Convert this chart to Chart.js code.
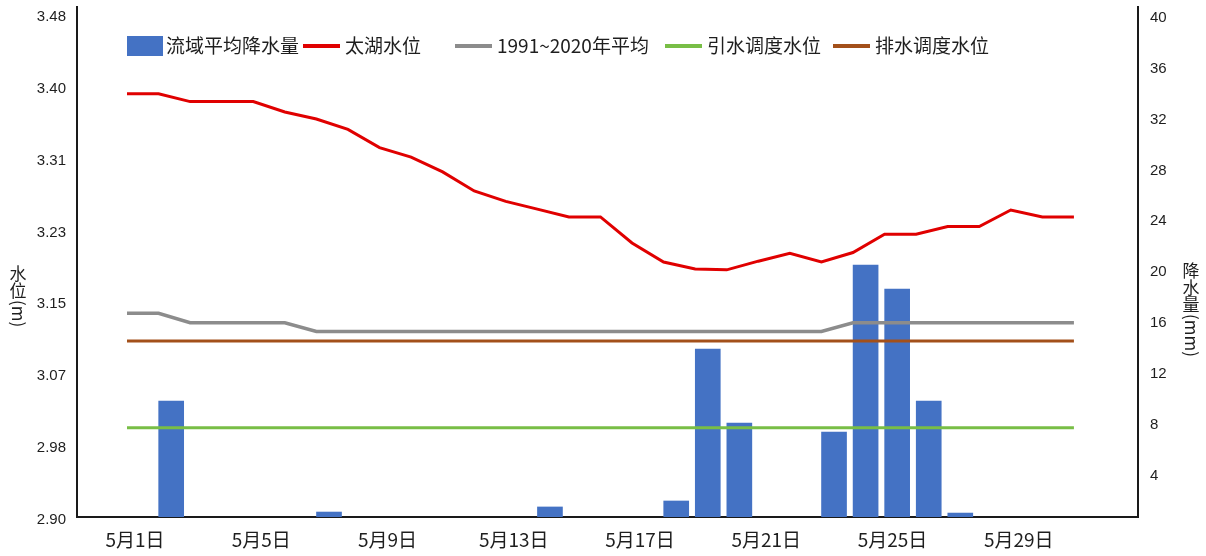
<!DOCTYPE html>
<html>
<head>
<meta charset="utf-8">
<script src="https://cdn.jsdelivr.net/npm/chart.js@4.4.1/dist/chart.umd.min.js"></script>
<style>
html,body{margin:0;padding:0;background:#fff;}
#wrap{width:1206px;height:556px;position:relative;}
</style>
</head>
<body>
<div id="wrap"><canvas id="c" width="1206" height="556"></canvas></div>
<script>
// ---------- data ----------
const days = ['5月1日','5月2日','5月3日','5月4日','5月5日','5月6日','5月7日','5月8日','5月9日','5月10日',
  '5月11日','5月12日','5月13日','5月14日','5月15日','5月16日','5月17日','5月18日','5月19日','5月20日',
  '5月21日','5月22日','5月23日','5月24日','5月25日','5月26日','5月27日','5月28日','5月29日','5月30日','5月31日'];

const seriesNames = ['流域平均降水量','太湖水位','1991~2020年平均','引水调度水位','排水调度水位'];

// 流域平均降水量 (mm)
const rainfall = [null, 9.63, null, null, null, null, 0.89, null, null, null,
  null, null, null, 1.29, null, null, null, 1.76, 13.72, 7.90,
  null, null, 7.19, 20.33, 18.44, 9.63, 0.81, null, null, null, null];

// 太湖水位 (m)
const taihuLevel = [3.388, 3.388, 3.379, 3.379, 3.379, 3.367, 3.359, 3.347, 3.326, 3.315,
  3.298, 3.276, 3.264, 3.255, 3.246, 3.246, 3.216, 3.194, 3.186, 3.185,
  3.195, 3.204, 3.194, 3.205, 3.226, 3.226, 3.235, 3.235, 3.254, 3.246, 3.246];

// 1991~2020年平均 (m)
const avgLevel = [3.135, 3.135, 3.124, 3.124, 3.124, 3.124, 3.114, 3.114, 3.114, 3.114,
  3.114, 3.114, 3.114, 3.114, 3.114, 3.114, 3.114, 3.114, 3.114, 3.114,
  3.114, 3.114, 3.114, 3.124, 3.124, 3.124, 3.124, 3.124, 3.124, 3.124, 3.124];

// 引水调度水位 (m)
const intakeLevel = [3.003, 3.003, 3.003, 3.003, 3.003, 3.003, 3.003, 3.003, 3.003, 3.003,
  3.003, 3.003, 3.003, 3.003, 3.003, 3.003, 3.003, 3.003, 3.003, 3.003,
  3.003, 3.003, 3.003, 3.003, 3.003, 3.003, 3.003, 3.003, 3.003, 3.003, 3.003];

// 排水调度水位 (m)
const drainLevel = [3.103, 3.103, 3.103, 3.103, 3.103, 3.103, 3.103, 3.103, 3.103, 3.103,
  3.103, 3.103, 3.103, 3.103, 3.103, 3.103, 3.103, 3.103, 3.103, 3.103,
  3.103, 3.103, 3.103, 3.103, 3.103, 3.103, 3.103, 3.103, 3.103, 3.103, 3.103];

// tick labels
const xTickDays = [1, 5, 9, 13, 17, 21, 25, 29];
const leftTicks = [2.90, 2.983, 3.066, 3.149, 3.231, 3.314, 3.397, 3.48];
const rightTicks = [4, 8, 12, 16, 20, 24, 28, 32, 36, 40];

// ---------- styling ----------
const CJK = "'Noto Sans CJK SC', 'Noto Sans', sans-serif";
const NUM = "'Liberation Sans', Arial, sans-serif";
const TXT = '#1e1e1e';
const colors = ['#4472C4', '#E00000', '#8C8C8C', '#78BE46', '#A3501A'];
const BAR_SHIFT = 0.4;   // bars sit slightly right of the day's line vertex (secondary axis alignment)

const toXY = (arr, shift) => arr.map((v, i) => ({x: i + 1 + (shift || 0), y: v}));
const noPad = s => { s.paddingTop = 0; s.paddingBottom = 0; s.paddingLeft = 0; s.paddingRight = 0; };

// stacked vertical title: CJK upright, latin run rotated
function drawStacked(ctx, text, cx, yStart, size) {
  ctx.save();
  ctx.fillStyle = TXT;
  ctx.font = size + 'px ' + CJK;
  let y = yStart;
  const runs = text.match(/[\u4e00-\u9fff]|[^\u4e00-\u9fff]+/g);
  runs.forEach(r => {
    if (/[\u4e00-\u9fff]/.test(r)) {
      ctx.textAlign = 'center';
      ctx.textBaseline = 'top';
      ctx.fillText(r, cx, y);
      y += size;
    } else {
      ctx.save();
      ctx.translate(cx, y + 1);
      ctx.rotate(Math.PI / 2);
      ctx.textAlign = 'left';
      ctx.textBaseline = 'middle';
      ctx.fillText(r, 0, 0);
      y += ctx.measureText(r).width;
      ctx.restore();
    }
  });
  ctx.restore();
}

const decorations = {
  id: 'decorations',
  afterDraw(chart) {
    const ctx = chart.ctx;
    // legend
    const starts = [127, 303, 455, 665, 833];
    ctx.save();
    ctx.font = '19px ' + CJK;
    ctx.textBaseline = 'middle';
    ctx.textAlign = 'left';
    seriesNames.forEach((name, i) => {
      const x = starts[i];
      ctx.fillStyle = colors[i];
      if (i === 0) {
        ctx.fillRect(x, 36, 36, 20);
      } else {
        ctx.fillRect(x, 44, 37, 4);
      }
      ctx.fillStyle = TXT;
      ctx.fillText(name, x + (i === 0 ? 39 : 42), 46);
    });
    ctx.restore();
    // axis titles
    drawStacked(ctx, '水位(m)', 18, 265, 17);
    drawStacked(ctx, '降水量(mm)', 1191, 262, 17);
  }
};

const ctx = document.getElementById('c').getContext('2d');
new Chart(ctx, {
  data: {
    datasets: [
      {type: 'bar', label: seriesNames[0], data: toXY(rainfall, BAR_SHIFT).filter(p => p.y !== null),
        xAxisID: 'x', yAxisID: 'y1', backgroundColor: colors[0], barThickness: 25, order: 5},
      {type: 'line', label: seriesNames[1], data: toXY(taihuLevel), xAxisID: 'x', yAxisID: 'y',
        borderColor: colors[1], borderWidth: 3, pointRadius: 0, tension: 0, order: 1},
      {type: 'line', label: seriesNames[2], data: toXY(avgLevel), xAxisID: 'x', yAxisID: 'y',
        borderColor: colors[2], borderWidth: 3.5, pointRadius: 0, tension: 0, order: 2},
      {type: 'line', label: seriesNames[3], data: toXY(intakeLevel), xAxisID: 'x', yAxisID: 'y',
        borderColor: colors[3], borderWidth: 3, pointRadius: 0, tension: 0, order: 3},
      {type: 'line', label: seriesNames[4], data: toXY(drainLevel), xAxisID: 'x', yAxisID: 'y',
        borderColor: colors[4], borderWidth: 3, pointRadius: 0, tension: 0, order: 2}
    ]
  },
  options: {
    responsive: false,
    animation: false,
    devicePixelRatio: 1,
    layout: {padding: {top: 7, left: 0, right: 0, bottom: 0}},
    plugins: {legend: {display: false}, tooltip: {enabled: false}},
    scales: {
      x: {
        type: 'linear', position: 'bottom', min: -0.584, max: 33.03, offset: false,
        grid: {display: false, drawTicks: false, offset: false},
        border: {display: true, color: '#1a1a1a', width: 2},
        ticks: {padding: 11, labelOffset: 8, color: TXT, font: {family: CJK, size: 19},
          maxRotation: 0, autoSkip: false, callback: v => days[v - 1]},
        afterBuildTicks: s => { s.ticks = xTickDays.map(v => ({value: v})); },
        afterFit: s => { s.height = 39; noPad(s); }
      },
      y: {
        type: 'linear', position: 'left', min: 2.90, max: 3.4881,
        grid: {display: false, drawTicks: false},
        border: {display: true, color: '#1a1a1a', width: 2},
        ticks: {padding: 11, labelOffset: 3, color: TXT, font: {family: NUM, size: 15},
          callback: v => v.toFixed(2)},
        afterBuildTicks: s => { s.ticks = leftTicks.map(v => ({value: v})); },
        afterFit: s => { s.width = 77; noPad(s); }
      },
      y1: {
        type: 'linear', position: 'right', min: 0.5, max: 40.63,
        grid: {display: false, drawTicks: false},
        border: {display: true, color: '#1a1a1a', width: 2},
        ticks: {padding: 12, labelOffset: 3, color: TXT, font: {family: NUM, size: 15},
          callback: v => String(v)},
        afterBuildTicks: s => { s.ticks = rightTicks.map(v => ({value: v})); },
        afterFit: s => { s.width = 68; noPad(s); }
      }
    }
  },
  plugins: [decorations]
});
</script>
</body>
</html>
